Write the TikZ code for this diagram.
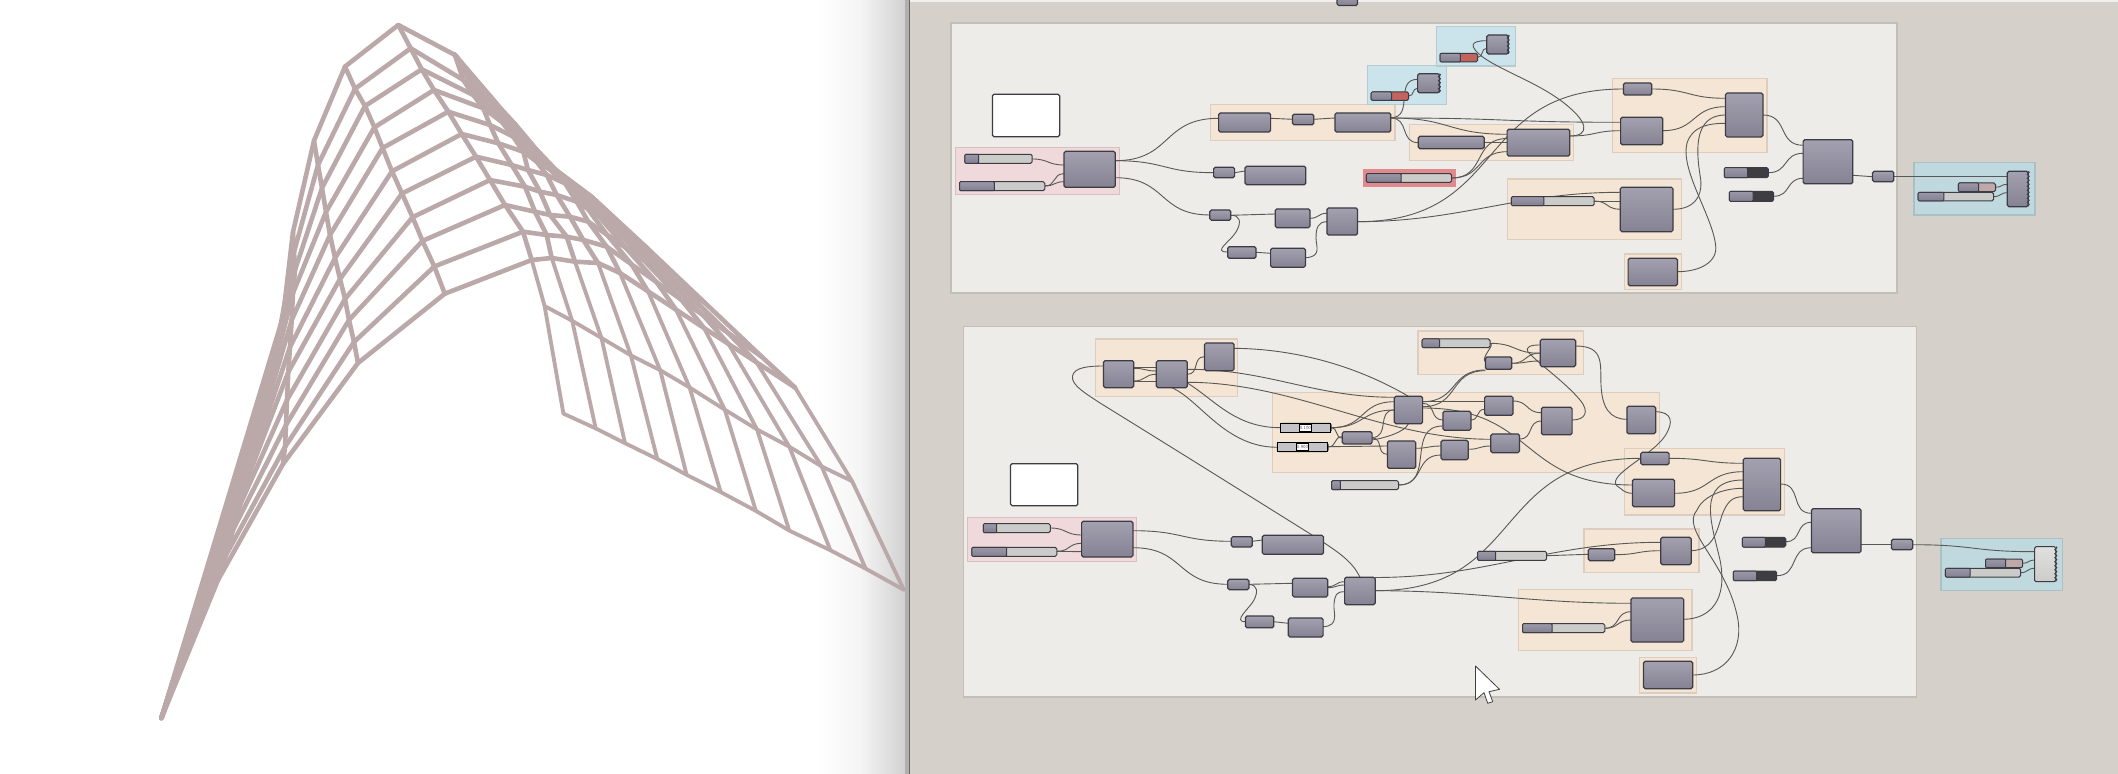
\documentclass[tikz,border=0pt]{standalone}
\usetikzlibrary{calc,decorations.pathmorphing}
\pgfdeclarelayer{under}
\pgfdeclarelayer{wirelayer}
\pgfsetlayers{under,wirelayer,main}
\definecolor{canvasc}{HTML}{D5D1CA}
\definecolor{panelc}{HTML}{EDECE8}
\definecolor{meshc}{HTML}{BBA9AA}
\definecolor{wirec}{HTML}{585856}
\definecolor{edgec}{HTML}{3C3C44}
\definecolor{sldlight}{HTML}{CBCBC9}
\definecolor{redsl}{HTML}{C2635E}
\definecolor{darksl}{HTML}{3D3D42}
\definecolor{rosesl}{HTML}{BFA8A8}
\definecolor{panelb}{HTML}{C3BFB7}
\definecolor{orf}{HTML}{F4E5D4}\definecolor{ord}{HTML}{DCCDBE}
\definecolor{pkf}{HTML}{EFD9DA}\definecolor{pkd}{HTML}{D8C0C0}
\definecolor{blf}{HTML}{CBE3EA}\definecolor{bld}{HTML}{B5CBD0}
\definecolor{tlf}{HTML}{C0D9DE}\definecolor{tld}{HTML}{A9C0C5}
\definecolor{rdf}{HTML}{E08A8E}
\definecolor{cmt}{HTML}{A3A1AF}\definecolor{cmb}{HTML}{858393}
\definecolor{slt}{HTML}{9B99A8}\definecolor{slb}{HTML}{828090}
\definecolor{lct}{HTML}{E0E0DE}\definecolor{lcb}{HTML}{CCCCCA}
\definecolor{dslout}{HTML}{5E5E66}\definecolor{dslin}{HTML}{C4C4C8}
\tikzset{
  boxbase/.style={rectangle,inner sep=0pt,outer sep=0pt},
  panelst/.style={boxbase,fill=panelc,draw=panelb,line width=.6pt},
  orangeg/.style={boxbase,fill=orf,draw=ord,line width=.6pt},
  pinkg/.style={boxbase,fill=pkf,draw=pkd,line width=.6pt},
  blueg/.style={boxbase,fill=blf,draw=bld,line width=.6pt},
  tealg/.style={boxbase,fill=tlf,draw=tld,line width=.8pt},
  redg/.style={boxbase,fill=rdf},
  compst/.style={boxbase,rounded corners=.8pt,draw=edgec,line width=.6pt,top color=cmt,bottom color=cmb},
  lightcomp/.style={boxbase,rounded corners=.8pt,draw=edgec,line width=.5pt,top color=lct,bottom color=lcb},
  whitest/.style={boxbase,rounded corners=.8pt,draw=edgec,line width=.6pt,fill=white},
  sldst/.style={boxbase,rounded corners=.8pt,draw=edgec,line width=.5pt},
  sldleft/.style={boxbase,rounded corners=.5pt,draw=edgec,line width=.5pt,top color=slt,bottom color=slb},
  wire/.style={draw=wirec,line width=.45pt},
  sw/.style={out=0,in=180,looseness=1.3},
  mesh/.style={draw=meshc,line width=2.3pt,line join=round,line cap=round},
  meshthin/.style={mesh,line width=1.9pt},
  teeth/.style={draw=edgec,line width=.45pt,decorate,decoration={zigzag,segment length=2pt,amplitude=.5pt}},
}
\newcommand{\gbox}[6][compst]{\node[#1,minimum width={(#5-#3)*0.5pt},minimum height={(#6-#4)*0.5pt}] (#2) at ({(#3+#5)/2},{(#4+#6)/2}) {};}
\newcommand{\sld}[7]{\gbox[sldst,fill=#7]{#1}{#2}{#3}{#5}{#6}\gbox[sldleft]{#1l}{#2}{#3}{#4}{#6}}
\newcommand{\dsl}[8]{\gbox[sldst,fill=dslout]{#1}{#2}{#3}{#4}{#5}
  \gbox[boxbase,fill=dslin,draw=black,line width=.7pt]{#1i}{#2+3.5}{#3+1.2}{#4-4}{#5-1.2}
  \node[boxbase,fill=white,draw=black,line width=.6pt,minimum width={(#7-#6)*0.5pt},minimum height=3.4pt,font=\sffamily\fontsize{2.3pt}{3pt}\selectfont,text=black!60] (#1t) at ({(#6+#7)/2},{(#3+#5)/2}) {#8};}
\newcommand{\w}[5][1.3]{\draw[wire] (#2.east |- 0,#3) to[sw,looseness=#1] (#4.west |- 0,#5);}
\begin{document}
\begin{tikzpicture}[x=0.5pt,y=-0.5pt]
\useasboundingbox (0,0) rectangle (2118,774);
\clip (0,0) rectangle (2118,774);
\begin{pgfonlayer}{under}
\fill[white] (0,0) rectangle (905,774);
\shade[left color=white,right color=black!18,middle color=black!4] (815,0) rectangle (905,774);
\fill[black!31] (905,0) rectangle (909,774);
\fill[black!60] (909,0) rectangle (910,774);
\fill[canvasc] (910,0) rectangle (2118,774);
\fill[black!6!white] (910,0) rectangle (2118,2);
% ---------- mesh ----------
\foreach \pp [count=\i from 0] in {(398.3,25),(410.7,48.3),(421.7,69.3),(434,90),(448.3,111.7),(461.7,134),(476,156.7),(490,180),(505,205),(523,231.7),(531.7,260)} \path \pp coordinate (P-0-\i);
\foreach \pp [count=\i from 0] in {(455,55),(463.3,80),(473.3,95),(483.3,108.3),(490,125),(498.3,143.3),(511.7,165),(525,186.7),(535,211.7),(546.7,235),(551.7,258)} \path \pp coordinate (P-1-\i);
\foreach \pp [count=\i from 0] in {(455,55),(475,90),(486.7,107.3),(501.7,121.7),(513.3,136.7),(523.3,151.7),(528,170),(540,191.7),(550,215),(566.7,236.7),(575,261.7)} \path \pp coordinate (P-2-\i);
\foreach \pp [count=\i from 0] in {(455,55),(478,95),(493.3,111.7),(510,130),(523.3,145),(536.7,161.7),(546.7,175),(556.7,195),(570,216.7),(583.3,240),(598,263)} \path \pp coordinate (P-3-\i);
\foreach \pp [count=\i from 0] in {(455,55),(483,100),(500,120),(518,136.7),(533,151.7),(548,168),(565,183.3),(576.7,201.7),(588.3,221.7),(606.7,246.7),(620,273)} \path \pp coordinate (P-4-\i);
\foreach \pp [count=\i from 0] in {(455,55),(491,97),(502,110),(515,124),(536,149),(556,170),(592,197),(646,247),(705,303),(762,357),(795,387.5)} \path \pp coordinate (P-10-\i);
\foreach \j/\wt in {5/.16,6/.32,7/.48,8/.62,9/.78}
  \foreach \i in {0,...,10} \coordinate (P-\j-\i) at ($(P-4-\i)!\wt!(P-10-\i)$);
\foreach \pp [count=\i from 0] in {(345,66.6),(355,88.8),(365,106),(374.4,127.3),(382.6,148),(392,171.3),(402,193.5),(412.6,217.2),(422.5,240.9),(434.3,266.5),(444.8,293.7)} \path \pp coordinate (A-\i);
\foreach \pp [count=\i from 0] in {(314,140.7),(318,165),(322,188),(326,212),(330,235),(335,258),(340,279),(345,299),(349,320),(354,342),(358,363)} \path \pp coordinate (B-\i);
\foreach \pp [count=\i from 0] in {(293,232),(294,252),(295,270),(293,293),(291.7,320),(290,347),(288.3,372),(287,400),(286,425),(285,447),(283,464)} \path \pp coordinate (C-\i);
\foreach \pp [count=\i from 0] in {(283,317),(277,345),(272,370),(266,400),(260,428),(254,455),(247,480),(240,505),(233,530),(226,555),(218,580)} \path \pp coordinate (D-\i);
\coordinate (tip) at (161.4,718);
\foreach \pp [count=\j from 0] in {(544.6,306),(572.2,320.8),(601.5,338),(630.9,355.4),(660.2,370.2),(689.6,387.5),(724.8,409.7),(757,429.4),(789.3,446.7),(821.6,466.4),(852.1,481.2)} \path \pp coordinate (M-\j);
\foreach \pp [count=\j from 0] in {(563.4,413.6),(595.7,428.4),(625,443.2),(657.3,459),(686.6,474.8),(720.7,492.1),(755.9,510.9),(789.3,530.6),(830.4,550.3),(865.6,568.6),(903.8,589.8)} \path \pp coordinate (N-\j);
\foreach \i in {0,...,10} {
  \draw[mesh] (tip) -- (D-\i) -- (C-\i) -- (B-\i) -- (A-\i) -- (P-0-\i)
    \foreach \j in {1,...,10} { -- (P-\j-\i) };
}
\foreach \L in {A,B,C,D} {
  \draw[mesh] (\L-0) \foreach \i in {1,...,10} { -- (\L-\i) };
}
\foreach \j in {0,...,10} {
  \draw[mesh] (P-\j-0) \foreach \i in {1,...,10} { -- (P-\j-\i) };
  \draw[meshthin] (P-\j-10) -- (M-\j) -- (N-\j);
}
\draw[meshthin] (M-0) \foreach \j in {1,...,10} { -- (M-\j) };
\draw[meshthin] (N-0) \foreach \j in {1,...,10} { -- (N-\j) };
% ---------- panels and groups ----------
\gbox[panelst]{panelA}{951}{23}{1897}{293}
\gbox[panelst]{panelB}{963.4}{326.7}{1916.2}{697}
\gbox[orangeg]{gA}{1210.1}{104.7}{1395}{140.3}
\gbox[orangeg]{gB}{1409.5}{124.7}{1573.7}{160.3}
\gbox[orangeg]{gC}{1612.3}{78.7}{1766.9}{152.7}
\gbox[orangeg]{gD}{1507.1}{179}{1681.7}{239.7}
\gbox[orangeg]{gE}{1624.2}{254}{1681.7}{289.7}
\gbox[pinkg]{gF}{955.3}{147.3}{1119.4}{194.3}
\gbox[redg]{gG}{1362.5}{169.3}{1455.8}{186.7}
\gbox[blueg]{gH}{1367.4}{65.3}{1446.3}{104.7}
\gbox[blueg]{gI}{1436.3}{26.7}{1515.5}{66}
\gbox[tealg]{gJ}{1913.9}{162.7}{2034.9}{215.3}
\gbox[orangeg]{gK}{1095.4}{339}{1237.8}{396.3}
\gbox[orangeg]{gL}{1272.6}{392.3}{1659.6}{472.3}
\gbox[orangeg]{gM}{1418}{331}{1583.6}{374.7}
\gbox[orangeg]{gN}{1584}{529}{1699}{572.7}
\gbox[orangeg]{gO}{1624.6}{448.3}{1784.6}{515}
\gbox[orangeg]{gP}{1518.3}{589.3}{1692}{650.3}
\gbox[orangeg]{gQ}{1639.5}{657.3}{1696.7}{693}
\gbox[pinkg]{gR}{967.2}{517.3}{1136.8}{561.3}
\gbox[tealg]{gS}{1941.1}{538.3}{2062.5}{590.3}
\end{pgfonlayer}
% ---------- top panel nodes ----------
\gbox{top}{1337}{-6}{1357.5}{5.5}
\gbox[whitest]{noteA}{992.4}{94.3}{1059.7}{136.7}
\sld{sa}{964.8}{154.3}{978.6}{1032.2}{163.3}{sldlight}
\sld{sb}{959.5}{181.7}{994.3}{1044.8}{190.7}{sldlight}
\gbox{pa}{1064}{151.3}{1115.2}{187.3}
\gbox{ca}{1218.6}{113}{1270.6}{132}
\gbox{cb}{1292.4}{114.3}{1313.8}{124.7}
\gbox{cc}{1334.9}{113}{1390.8}{132}
\gbox{cd}{1213.6}{167.3}{1234.6}{177.7}
\gbox{ce}{1245}{166.3}{1305.8}{184.7}
\sld{sr}{1366.3}{173.7}{1401}{1451.6}{182.3}{sldlight}
\gbox{cf}{1209.8}{210}{1230.8}{220.3}
\gbox{cg}{1275.2}{209}{1310}{227.7}
\gbox{ch}{1326.9}{208}{1357.5}{235}
\gbox{ci}{1227.7}{246.7}{1256}{258.3}
\gbox{cj}{1270.6}{248.3}{1305.4}{267.3}
\gbox{ba}{1417.6}{73.7}{1439.4}{92.7}
\draw[teeth] (ba.north east) -- (ba.south east);
\sld{sc}{1371.2}{92}{1391.5}{1408.7}{100.3}{redsl}
\gbox{bb}{1486.8}{35}{1508.3}{54}
\draw[teeth] (bb.north east) -- (bb.south east);
\sld{sd}{1440.1}{53.3}{1460.4}{1477.6}{62}{redsl}
\gbox{ck}{1418.3}{136.3}{1484.2}{148.7}
\gbox{cl}{1507.1}{129.3}{1569.8}{156}
\gbox{cm}{1623.4}{83}{1651.8}{95}
\gbox{cn}{1620.6}{117.3}{1662.8}{144.7}
\gbox{co}{1725.5}{93}{1762.9}{137}
\sld{se}{1724.3}{167.7}{1747.5}{1768.4}{177.7}{darksl}
\sld{sf}{1729.4}{191.3}{1753}{1773.6}{201.3}{darksl}
\gbox{cp}{1803.1}{139.7}{1852.8}{183.7}
\gbox{cq}{1872.5}{171.3}{1893.8}{181.7}
\gbox{bc}{2007.3}{171.3}{2028.2}{206.7}
\draw[teeth] (bc.north east) -- (bc.south east);
\sld{sg}{1958.4}{183}{1978.5}{1995.5}{191.7}{rosesl}
\sld{sh}{1918.2}{192.3}{1943.8}{1993.5}{201}{sldlight}
\sld{si}{1511.4}{196.7}{1543.8}{1594.2}{205.7}{sldlight}
\gbox{cr}{1620.2}{187.3}{1673}{231.7}
\gbox{cs}{1628.1}{258.3}{1677.4}{285.7}
% ---------- bottom panel nodes ----------
\gbox{da}{1103.5}{360.7}{1133.7}{387.7}
\gbox{db}{1156.3}{360.7}{1187.3}{387.7}
\gbox{dc}{1204.5}{343}{1234}{370.7}
\sld{sj}{1422.2}{339}{1439.5}{1490}{347.7}{sldlight}
\gbox{dd}{1485.4}{357}{1511.8}{369.3}
\gbox{de}{1540.2}{339.3}{1575.7}{366.7}
\gbox{df}{1394.3}{396.3}{1422.6}{423.7}
\gbox{dg}{1484.6}{396.3}{1513}{415.3}
\gbox{dh}{1442.9}{411.3}{1470.9}{430.3}
\gbox{di}{1541.4}{407.3}{1572.1}{434.7}
\gbox{dj}{1490.8}{434}{1519.5}{452.7}
\gbox{dk}{1342.3}{431.7}{1372.1}{444}
\gbox{dl}{1387.4}{441}{1415.7}{468.3}
\gbox{dm}{1441}{440.3}{1468.2}{459.7}
\dsl{ra}{1280.5}{423.3}{1331}{432.3}{1299.3}{1311.3}{0.100}
\dsl{rb}{1277.4}{442.7}{1328}{451.7}{1296.7}{1308.3}{0.900}
\sld{sk}{1331.6}{480.7}{1340.4}{1398.5}{489.7}{sldlight}
\gbox{dn}{1626.9}{406.3}{1655.7}{433.7}
\gbox[whitest]{noteB}{1010.5}{463.7}{1077.8}{505.7}
\sld{sl}{983.3}{523.7}{996.7}{1050.3}{532.7}{sldlight}
\sld{sm}{971.8}{547.3}{1006.6}{1056.8}{556.3}{sldlight}
\gbox{pb}{1081.6}{521.3}{1132.9}{557}
\gbox{eb}{1231.3}{536.7}{1252.3}{547}
\gbox{ec}{1262.3}{535.3}{1323.5}{554.3}
\gbox{ed}{1227.8}{579.3}{1248.9}{589.7}
\gbox{ee}{1292.5}{578.3}{1327.7}{597}
\gbox{ef}{1344.6}{577.3}{1375.2}{604.7}
\gbox{eg}{1245.4}{616}{1273.8}{627.7}
\gbox{eh}{1288.3}{618}{1323.1}{637}
\sld{sn}{1477.7}{551.3}{1495.7}{1546.6}{560.3}{sldlight}
\gbox{ei}{1588.3}{548.7}{1614.7}{560.7}
\gbox{ej}{1660.8}{537.3}{1691.2}{564.7}
\gbox{ek}{1640.7}{452.3}{1669.1}{464.7}
\gbox{el}{1632.4}{479.3}{1674.6}{506.7}
\gbox{em}{1743.2}{458.3}{1780.6}{510.7}
\sld{so}{1522.5}{623.7}{1552}{1604.8}{632.7}{sldlight}
\gbox{en}{1630.9}{598}{1683.7}{642}
\gbox{eo}{1643.5}{661.3}{1692.7}{688.7}
\sld{sp}{1742.4}{537.3}{1765.3}{1785.8}{547}{darksl}
\sld{sq}{1733.3}{571}{1756.6}{1776.7}{580.7}{darksl}
\gbox{ep}{1811.4}{508.7}{1861}{552.7}
\gbox{eq}{1891.4}{539.3}{1912.7}{549.7}
\gbox[lightcomp]{er}{2034.5}{546.7}{2055.8}{581.7}
\draw[teeth] (er.north east) -- (er.south east);
\sld{ss}{1985.6}{559}{2005.7}{2022.7}{567.7}{rosesl}
\sld{st}{1945.4}{568.3}{1970.2}{2020.7}{577}{sldlight}
% ---------- cursor ----------
\draw[fill=white,draw=black!75,line width=.4pt,line join=round] (1475.4,666) -- (1499.5,689.3) -- (1489,691.7) -- (1492.7,701.7) -- (1487.7,703.3) -- (1484,692.7) -- (1475.4,700) -- cycle;
% ---------- wires ----------
\begin{pgfonlayer}{wirelayer}
% top panel
\w{sa}{159}{pa}{165}
\w{sb}{186}{pa}{173.7}
\w{sb}{186}{pa}{181.7}
\w{pa}{160.7}{ca}{118.3}
\w{pa}{160.7}{cd}{172.7}
\w{pa}{177.7}{cf}{215}
\w{cd}{172.7}{ce}{171}
\w{ca}{118.3}{cb}{119.3}
\w{cb}{119.3}{cc}{118}
\w{cf}{215.3}{cg}{214}
\draw[wire] (cf.east |- 0,215.3) .. controls (1240,215) and (1242,222) .. (1236,232) .. controls (1230,242) and (1212,252) .. (ci.west |- 0,252);
\w{ci}{252.3}{cj}{253.3}
\w{cg}{218.3}{ch}{213.3}
\draw[wire] (cj.east |- 0,257.7) .. controls (1322,257) and (1316,246) .. (1316,238) .. controls (1316,228) and (1318,221.7) .. (ch.west |- 0,221.7);
\w{ch}{221.7}{cm}{89}
\w[1]{ch}{221.7}{cr}{192.3}
\w{cc}{118}{cn}{122.3}
\w{cc}{118}{cl}{134.3}
\w{cc}{118}{ck}{142.7}
\w{cc}{117.7}{ba}{79.3}
\w{sc}{96}{ba}{88.3}
\w{sd}{57.3}{bb}{48.3}
\draw[wire] (cl.east |- 0,136) .. controls (1590,136) and (1590,122) .. (1560,100) .. controls (1535,82) and (1505,72) .. (1484,58) .. controls (1468,46) and (1470,40.7) .. (bb.west |- 0,40.7);
\w{ck}{142.7}{cl}{142.7}
\w{sr}{178}{cl}{151.7}
\w{sr}{178}{cl}{138.5}
\w{cl}{136}{cn}{130.7}
\w{cm}{89}{co}{98.3}
\w{cn}{130.7}{co}{106.7}
\draw[wire] (cr.east |- 0,209.3) .. controls (1695,209.3) and (1704,195) .. (1700,175) .. controls (1696,150) and (1694,115) .. (co.west |- 0,115);
\draw[wire] (cs.east |- 0,271.7) .. controls (1700,271.7) and (1718,262) .. (1715.6,245) .. controls (1712,215) and (1680,170) .. (1687,143) .. controls (1692,128) and (1705,123.3) .. (co.west |- 0,123.3);
\w{se}{172.7}{cp}{153.3}
\w{sf}{196.3}{cp}{178.3}
\w{co}{115}{cp}{145.3}
\w{cp}{175.3}{cq}{176.7}
\w{cq}{176.3}{bc}{176.3}
\w{sg}{187.3}{bc}{184.3}
\w{sh}{196.7}{bc}{192.7}
\w{si}{201}{cr}{209.3}
\w{si}{201}{cr}{201}
% bottom panel
\w{pb}{530.7}{eb}{541.3}
\w{pb}{547.7}{ed}{584.3}
\w{sl}{528}{pb}{535}
\w{sm}{551.3}{pb}{543.3}
\w{sm}{551.3}{pb}{551.7}
\w{eb}{541.3}{ec}{540}
\w{ed}{584.3}{ee}{583.3}
\draw[wire] (ed.east |- 0,584.3) .. controls (1258,585) and (1258,592) .. (1254,600) .. controls (1250,608) and (1232,621.7) .. (eg.west |- 0,621.7);
\w{eg}{621.7}{eh}{623.3}
\w{ee}{586.7}{ef}{581.7}
\w{ee}{587.7}{ef}{585}
\draw[wire] (eh.east |- 0,626.7) .. controls (1340,626) and (1333,612) .. (1334,604) .. controls (1335,595) and (1336,591.7) .. (ef.west |- 0,591.7);
\w[1]{ef}{577.5}{ej}{542.3}
\w{sn}{555.7}{ei}{554.3}
\w{ei}{554.7}{ej}{550.7}
\w{ef}{590.7}{ek}{458.3}
\w[1]{ef}{590.7}{en}{603.3}
\draw[wire] (ef.north) .. controls (1352,560) and (1335,550) .. (1312,535) .. controls (1240,490) and (1160,440) .. (1100,403) .. controls (1085,393) and (1071,385) .. (1072.5,376) .. controls (1074,367) and (1090,366) .. (da.west |- 0,366);
\w{da}{367.7}{db}{367.7}
\w{da}{368.3}{db}{371}
\w{da}{381}{db}{374.3}
\w{da}{381}{db}{381}
\w{db}{374.3}{dc}{356.7}
\draw[wire] (dc.east |- 0,348.3) .. controls (1300,349) and (1360,368) .. (df.north);
\w[1]{db}{369.3}{df}{397.3}
\w[.9]{db}{382.3}{dj}{439.3}
\draw[wire] (db.east |- 0,383) .. controls (1215,400) and (1235,427.7) .. (ra.west |- 0,427.7);
\draw[wire] (db.south) .. controls (1200,400) and (1225,447.3) .. (rb.west |- 0,447.3);
\w{ra}{427.7}{df}{401.7}
\w{ra}{427.7}{df}{410}
\w{ra}{427.9}{dk}{438}
\w{rb}{447}{dk}{436.7}
\w{rb}{446.7}{dl}{446}
\w{dk}{437.5}{df}{410}
\draw[wire] (dk.east |- 0,440) .. controls (1385,438) and (1405,432) .. (df.south);
\w{dk}{438}{dl}{454.3}
\w{df}{401.7}{dd}{370}
\w{df}{406.7}{dd}{370.7}
\w{df}{401}{dg}{401}
\w{df}{403.3}{dh}{420}
\w{df}{408}{el}{485}
\w{dl}{448.3}{dm}{446}
\w{sk}{485}{dm}{455}
\w{sk}{485}{dh}{426}
\w{dm}{449.3}{dj}{446}
\w{dh}{420}{dg}{409.3}
\w{dg}{401}{di}{412.7}
\w{dj}{439}{di}{421}
\draw[wire] (di.east |- 0,420) .. controls (1585,420) and (1590,412) .. (1580,400) .. controls (1565,382) and (1540,365) .. (1528,352) .. controls (1525,346) and (1532,345) .. (de.west |- 0,345);
\w{sj}{343.3}{de}{353.3}
\draw[wire] (sj.east |- 0,343.3) .. controls (1496,344) and (1480,358) .. (dd.west |- 0,362);
\w{dd}{363.3}{de}{353}
\w{dd}{363.3}{de}{361}
\draw[wire] (de.east |- 0,346) .. controls (1605,346) and (1600,365) .. (1601,385) .. controls (1602,408) and (1610,419.3) .. (dn.west |- 0,419.3);
\draw[wire] (dn.east |- 0,411.7) .. controls (1672,412) and (1674,422) .. (1665,436) .. controls (1650,458) and (1600,478) .. (1620,488) .. controls (1624,492) and (1628,493.3) .. (el.west |- 0,493.3);
\w{ek}{458.3}{em}{463.3}
\w{el}{493.3}{em}{471.7}
\draw[wire] (en.east |- 0,619.3) .. controls (1710,619) and (1728,600) .. (1720,560) .. controls (1712,525) and (1695,480) .. (em.west |- 0,480);
\draw[wire] (eo.east |- 0,675) .. controls (1725,675) and (1745,650) .. (1737,615) .. controls (1725,560) and (1680,530) .. (1697,510) .. controls (1702,498) and (1720,488.3) .. (em.west |- 0,488.3);
\draw[wire] (ej.east |- 0,550.7) .. controls (1712,550) and (1716,535) .. (1722,515) .. controls (1727,502) and (1732,496.7) .. (em.west |- 0,496.7);
\w{em}{484}{ep}{513.3}
\w{sp}{541.7}{ep}{522.3}
\w{sq}{575.7}{ep}{547.7}
\w{ep}{544.3}{eq}{544.3}
\w{eq}{544.7}{er}{551.7}
\w{ss}{563.3}{er}{560}
\w{st}{572.7}{er}{568.3}
\w{so}{628.3}{en}{611.7}
\w{so}{628.3}{en}{620}
\end{pgfonlayer}
\end{tikzpicture}
\end{document}
